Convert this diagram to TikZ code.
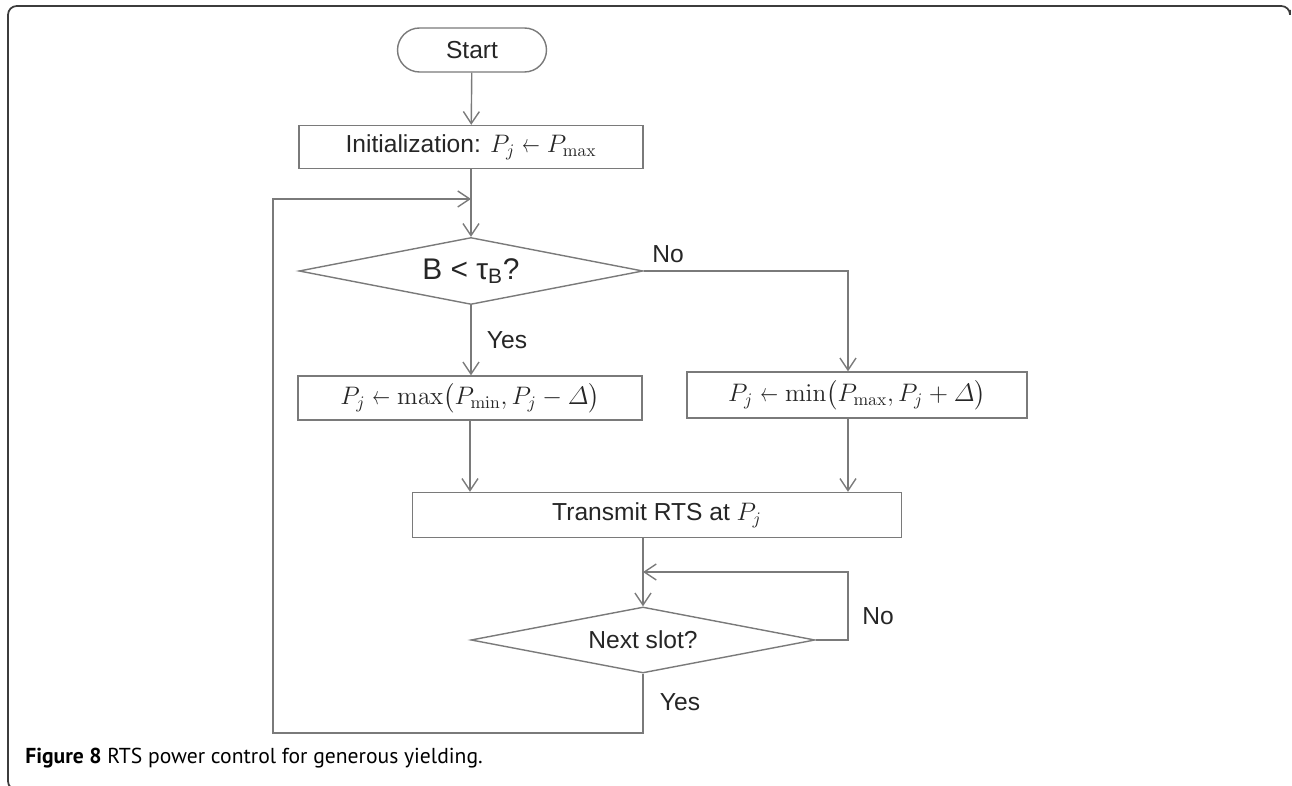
\documentclass[tikz,border=0pt]{standalone}
\usepackage{amsmath,amssymb,graphicx}
\usepackage[no-math]{fontspec}
\setmainfont{Liberation Sans}
\newfontfamily\capfont{PT Sans}
\usetikzlibrary{shapes.geometric,arrows.meta}
\definecolor{linegray}{HTML}{7A7A7A}
\definecolor{inkgray}{HTML}{262626}
\definecolor{framegray}{HTML}{3C3C3C}
\newcommand{\assignto}{\mathrel{\scalebox{0.7}[1]{$\leftarrow$}}}

\begin{document}
\begin{tikzpicture}[x=0.02cm, y=-0.02cm,
    >={Straight Barb[length=2.4mm,width=3.2mm]},
    procbox/.style={draw=linegray, line width=0.8pt, text=inkgray, inner sep=0pt,
        font=\fontsize{14}{17}\selectfont, minimum width=6.88cm, minimum height=0.88cm},
    termbox/.style={procbox, rounded corners=0.44cm, minimum width=2.98cm},
    decbox/.style={procbox, diamond, aspect=5, minimum width=6.88cm, minimum height=1.34cm},
    lbl/.style={text=inkgray, inner sep=0pt, font=\fontsize{14}{17}\selectfont},
    flow/.style={->, draw=linegray, line width=0.8pt}]
    \useasboundingbox (0,0) rectangle (1292,786);
    \draw[framegray, line width=1pt, rounded corners=5pt] (1290,10) -- (1290,6) -- (8,6) -- (8,790) -- (20,790);
    \node[termbox] (start) at (472,50) {Start};
    \node[procbox, minimum height=0.86cm] (init) at (471,147) {Initialization: $P_j \assignto P_{\max}$};
    \node[decbox, font=\fontsize{17}{20}\selectfont] (test) at (471,271) {B < τ\textsubscript{B}?};
    \node[procbox] (dec) at (470,398) {$P_j \assignto \max\bigl(P_{\min}, P_j - \varDelta\bigr)$};
    \node[procbox, minimum width=6.8cm, minimum height=0.92cm] (inc) at (857,395) {$P_j \assignto \min\bigl(P_{\max}, P_j + \varDelta\bigr)$};
    \node[procbox, minimum width=9.78cm, minimum height=0.9cm] (tx) at (657,515) {Transmit RTS at $P_j$};
    \node[decbox, minimum height=1.32cm] (slot) at (643,640) {Next slot?};
    \node[lbl] (no1) at (668,254) {No};
    \node[lbl] (yes1) at (507,340) {Yes};
    \node[lbl] (no2) at (878,616) {No};
    \node[lbl] (yes2) at (680,702) {Yes};
    \coordinate (merge) at (471,199);
    \coordinate (nojoin) at (848,271);
    \coordinate (wait) at (848,572);
    \coordinate (back) at (273,733);
    \draw[flow] (start) -- (init);
    \draw[flow] (init) -- (test);
    \draw[flow] (test.south) -- (test.south |- dec.north);
    \draw[flow] (test.east) -- (nojoin) -- (nojoin |- inc.north);
    \draw[flow] (dec.south) -- (dec.south |- tx.north);
    \draw[flow] (nojoin |- inc.south) -- (nojoin |- tx.north);
    \draw[flow] (slot.north |- tx.south) -- (slot.north);
    \draw[flow] (slot.east) -| (wait) -- (slot.north |- wait);
    \draw[flow] (slot.south) |- (back) |- (merge);
    \node[anchor=west, inner sep=0pt, font=\capfont\fontsize{12.3}{14}\selectfont] (cap) at (25,758)
        {\textbf{Figure 8} RTS power control for generous yielding.};
\end{tikzpicture}
\end{document}
